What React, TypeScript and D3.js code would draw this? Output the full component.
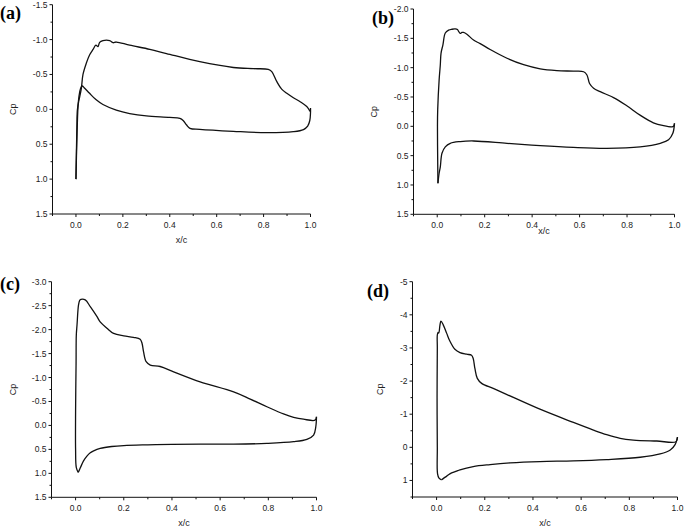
import React from 'react';
import * as d3 from 'd3';

type P = [number, number];

const xMajorTicks = [0, 0.2, 0.4, 0.6, 0.8, 1.0];
const xMinorTicks = [-0.1, 0.1, 0.3, 0.5, 0.7, 0.9];

const yTicksA = [-1.5, -1.0, -0.5, 0.0, 0.5, 1.0, 1.5];
const yTicksB = [-2.0, -1.5, -1.0, -0.5, 0.0, 0.5, 1.0, 1.5];
const yTicksC = [-3.0, -2.5, -2.0, -1.5, -1.0, -0.5, 0.0, 0.5, 1.0, 1.5];
const yTicksD = [-5, -4, -3, -2, -1, 0, 1];

const upperA: P[] = [
  [0, 1.0], [0.002, 0.6], [0.004, 0.25], [0.006, 0.01], [0.012, -0.12], [0.016, -0.18],
  [0.023, -0.3], [0.03, -0.5], [0.044, -0.66], [0.058, -0.78], [0.073, -0.86], [0.085, -0.92],
  [0.094, -0.9], [0.101, -0.96], [0.115, -0.985], [0.144, -0.985], [0.158, -0.955], [0.172, -0.965],
  [0.229, -0.92], [0.315, -0.86], [0.386, -0.8], [0.528, -0.683], [0.671, -0.6], [0.756, -0.583],
  [0.82, -0.573], [0.835, -0.54], [0.856, -0.4], [0.877, -0.29], [0.899, -0.23], [0.927, -0.167],
  [0.956, -0.11], [0.984, -0.04], [0.997, 0.02], [1.0, 0.03],
];
const lowerA: P[] = [
  [0, 1.0], [0.005, 0.3], [0.01, -0.1], [0.016, -0.25], [0.022, -0.32], [0.027, -0.335],
  [0.035, -0.31], [0.058, -0.23], [0.085, -0.14], [0.115, -0.07], [0.172, 0.01], [0.229, 0.06],
  [0.3, 0.095], [0.4, 0.115], [0.443, 0.13], [0.457, 0.16], [0.472, 0.225], [0.486, 0.272],
  [0.528, 0.287], [0.671, 0.315], [0.813, 0.334], [0.927, 0.32], [0.97, 0.29], [0.988, 0.24],
  [0.997, 0.16], [1.0, 0.05], [1.0, -0.02],
];

const upperB: P[] = [
  [0.003, 0.97], [0.002, 0.6], [0.001, 0.0], [0.002, -0.28], [0.008, -0.79], [0.013, -1.05],
  [0.016, -1.245], [0.024, -1.39], [0.034, -1.59], [0.048, -1.64], [0.062, -1.655], [0.076, -1.66],
  [0.085, -1.65], [0.09, -1.62], [0.097, -1.585], [0.104, -1.6], [0.111, -1.6], [0.125, -1.57],
  [0.153, -1.47], [0.181, -1.41], [0.223, -1.31], [0.294, -1.16], [0.364, -1.05], [0.434, -0.98],
  [0.504, -0.95], [0.574, -0.94], [0.617, -0.93], [0.631, -0.875], [0.642, -0.73], [0.659, -0.65],
  [0.687, -0.59], [0.743, -0.49], [0.799, -0.35], [0.855, -0.19], [0.911, -0.06], [0.954, -0.01],
  [0.989, 0.01], [0.996, 0.0], [1.0, -0.05],
];
const lowerB: P[] = [
  [0.003, 0.97], [0.008, 0.8], [0.013, 0.69], [0.02, 0.46], [0.034, 0.35], [0.055, 0.29],
  [0.097, 0.26], [0.153, 0.25], [0.294, 0.29], [0.434, 0.33], [0.574, 0.36], [0.715, 0.375],
  [0.855, 0.35], [0.94, 0.29], [0.975, 0.23], [0.993, 0.12], [1.0, -0.05],
];

const upperC: P[] = [
  [0.011, 0.98], [0.003, 0.88], [0.0, 0.5], [0.0, -0.3], [0.002, -1.3], [0.003, -1.89],
  [0.006, -2.1], [0.012, -2.51], [0.017, -2.61], [0.022, -2.63], [0.04, -2.62], [0.061, -2.48],
  [0.089, -2.27], [0.102, -2.16], [0.13, -2.03], [0.158, -1.92], [0.2, -1.87], [0.24, -1.84],
  [0.268, -1.8], [0.276, -1.71], [0.282, -1.54], [0.293, -1.33], [0.31, -1.26], [0.351, -1.23],
  [0.407, -1.12], [0.517, -0.91], [0.656, -0.7], [0.725, -0.55], [0.794, -0.39], [0.863, -0.24],
  [0.905, -0.17], [0.946, -0.13], [0.994, -0.11], [1.0, -0.18],
];
const lowerC: P[] = [
  [0.011, 0.98], [0.02, 0.88], [0.033, 0.74], [0.047, 0.64], [0.061, 0.57], [0.075, 0.53],
  [0.102, 0.48], [0.15, 0.44], [0.2, 0.42], [0.3, 0.405], [0.4, 0.395], [0.517, 0.39],
  [0.656, 0.39], [0.794, 0.375], [0.905, 0.34], [0.96, 0.29], [0.988, 0.2], [0.997, 0.03], [1.0, -0.18],
];

const upperD: P[] = [
  [0.021, 0.98], [0.01, 0.93], [0.004, 0.8], [0.003, 0.0], [0.002, -1.5], [0.003, -3.0],
  [0.003, -3.39], [0.006, -3.47], [0.009, -3.45], [0.014, -3.69], [0.018, -3.81], [0.028, -3.69],
  [0.042, -3.44], [0.055, -3.21], [0.076, -2.96], [0.097, -2.86], [0.125, -2.81], [0.145, -2.78],
  [0.152, -2.68], [0.159, -2.38], [0.169, -2.08], [0.187, -1.93], [0.235, -1.78], [0.29, -1.6],
  [0.429, -1.15], [0.568, -0.75], [0.651, -0.52], [0.706, -0.38], [0.762, -0.27], [0.817, -0.22],
  [0.914, -0.19], [0.994, -0.17], [1.0, -0.31],
];
const lowerD: P[] = [
  [0.021, 0.98], [0.03, 0.93], [0.042, 0.87], [0.055, 0.8], [0.083, 0.72], [0.097, 0.68],
  [0.152, 0.58], [0.222, 0.52], [0.305, 0.47], [0.429, 0.43], [0.568, 0.41], [0.706, 0.37],
  [0.845, 0.3], [0.928, 0.2], [0.97, 0.08], [0.99, -0.08], [1.0, -0.31],
];

interface Spec {
  label: string;
  upper: P[];
  lower: P[];
  yTicks: number[];
  yStep: number;
  digits: number;
  left: number;
  right: number;
  top: number;
  bottom: number;
  labelX: number;
  labelY: number;
  xTitleY: number;
  yTitleX: number;
}

const specs: Spec[] = [
  { label: '(a)', upper: upperA, lower: lowerA, yTicks: yTicksA, yStep: 0.5, digits: 1,
    left: 52.5, right: 310.5, top: 4.7, bottom: 214, labelX: 0, labelY: 19, xTitleY: 243, yTitleX: 13 },
  { label: '(b)', upper: upperB, lower: lowerB, yTicks: yTicksB, yStep: 0.5, digits: 1,
    left: 413.5, right: 674.5, top: 9, bottom: 214.3, labelX: 372, labelY: 23.5, xTitleY: 234, yTitleX: 373.5 },
  { label: '(c)', upper: upperC, lower: lowerC, yTicks: yTicksC, yStep: 0.5, digits: 1,
    left: 51.5, right: 316.5, top: 281.7, bottom: 497.3, labelX: 0, labelY: 290, xTitleY: 526, yTitleX: 12.5 },
  { label: '(d)', upper: upperD, lower: lowerD, yTicks: yTicksD, yStep: 1, digits: 0,
    left: 412.5, right: 677.5, top: 281.7, bottom: 497, labelX: 367, labelY: 297, xTitleY: 526, yTitleX: 379.5 },
];

const tickFont = '"Liberation Sans", Arial, sans-serif';

function Panel({ s }: { s: Spec }) {
  const yMin = s.yTicks[0];
  const yMax = s.yTicks[s.yTicks.length - 1] + (s.digits === 0 ? 0.5 : 0);
  const x = d3.scaleLinear().domain([-0.1, 1.0]).range([s.left, s.right]);
  const y = d3.scaleLinear().domain([yMin, yMax]).range([s.top, s.bottom]);
  const line = d3.line<P>().x(d => x(d[0])).y(d => y(d[1])).curve(d3.curveCatmullRom.alpha(0.5));
  const yMinor: number[] = [];
  for (let v = yMin + s.yStep / 2; v < yMax + 1e-9; v += s.yStep) {
    if (!s.yTicks.some(t => Math.abs(t - v) < 1e-6)) yMinor.push(v);
  }
  const fmt = (v: number) => (s.digits === 0 ? d3.format('d')(v) : d3.format('.1f')(v)).replace('−', '-');
  const cx = (s.left + s.right) / 2;
  const cy = (s.top + s.bottom) / 2;
  return (
    <g>
      <line x1={s.left} x2={s.left} y1={s.top} y2={s.bottom} stroke="#111" strokeWidth={1} />
      <line x1={s.left} x2={s.right} y1={s.bottom} y2={s.bottom} stroke="#111" strokeWidth={1} />
      {xMajorTicks.map(t => (
        <g key={'xm' + t}>
          <line x1={x(t)} x2={x(t)} y1={s.bottom} y2={s.bottom + 3} stroke="#111" />
          <text x={x(t)} y={s.bottom + 13.5} textAnchor="middle" fontSize={8.5} fontFamily={tickFont} fill="#222">
            {d3.format('.1f')(t)}
          </text>
        </g>
      ))}
      {xMinorTicks.map(t => (
        <line key={'xn' + t} x1={x(t)} x2={x(t)} y1={s.bottom} y2={s.bottom + 2} stroke="#111" />
      ))}
      {s.yTicks.map(t => (
        <g key={'ym' + t}>
          <line x1={s.left - 3} x2={s.left} y1={y(t)} y2={y(t)} stroke="#111" />
          <text x={s.left - 5} y={y(t) + 3} textAnchor="end" fontSize={8.5} fontFamily={tickFont} fill="#222">
            {fmt(t)}
          </text>
        </g>
      ))}
      {yMinor.map(t => (
        <line key={'yn' + t} x1={s.left - 2} x2={s.left} y1={y(t)} y2={y(t)} stroke="#111" />
      ))}
      <path d={line(s.upper) || ''} fill="none" stroke="#111" strokeWidth={1.3} />
      <path d={line(s.lower) || ''} fill="none" stroke="#111" strokeWidth={1.3} />
      <text x={cx} y={s.xTitleY} textAnchor="middle" fontSize={9} fontFamily={tickFont} fill="#222">x/c</text>
      <text transform={`translate(${s.yTitleX},${cy}) rotate(-90)`} textAnchor="middle" dy="0.35em"
        fontSize={9} fontFamily={tickFont} fill="#222">Cp</text>
      <text x={s.labelX} y={s.labelY} fontSize={18} fontWeight="bold"
        fontFamily='"Liberation Serif", "Times New Roman", serif' fill="#000">{s.label}</text>
    </g>
  );
}

export default function App() {
  return (
    <svg width={685} height={529} style={{ position: 'absolute', left: 0, top: 0, background: '#fff' }}>
      <rect x={0} y={0} width={685} height={529} fill="#fff" />
      {specs.map(s => <Panel key={s.label} s={s} />)}
    </svg>
  );
}
